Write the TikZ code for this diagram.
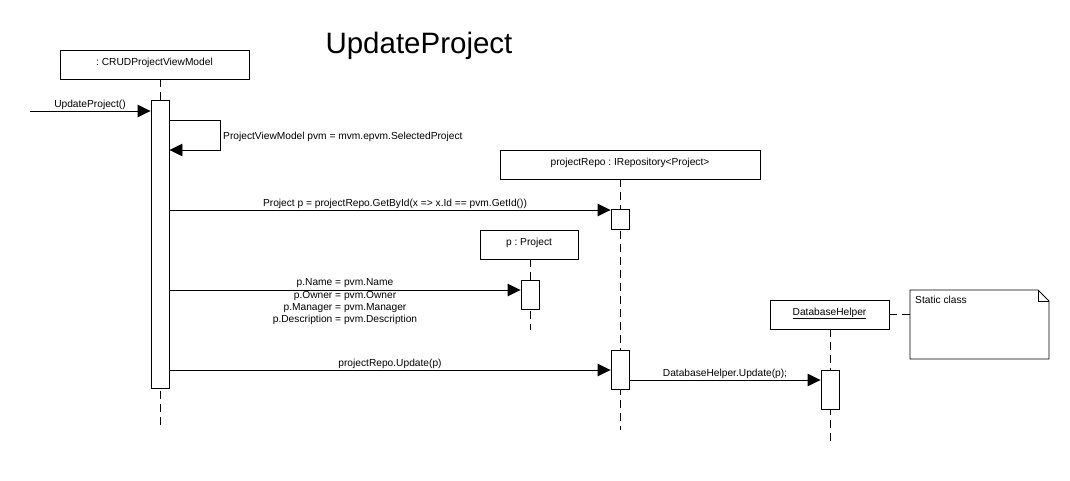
\documentclass[tikz,border=0pt]{standalone}
\usepackage{fontspec}
\setmainfont{Liberation Sans}
\usetikzlibrary{arrows.meta,calc}
\begin{document}
\frenchspacing
\begin{tikzpicture}[x=1pt,y=-1pt,
  every node/.style={font=\fontsize{10.2}{12}\selectfont},
  objbox/.style={draw,line width=0.9pt,inner sep=0pt,text height=7pt,text depth=6pt},
  actbar/.style={draw,fill=white,line width=0.9pt,inner sep=0pt,minimum width=18pt},
  lifeline/.style={line width=0.9pt,dash pattern=on 8pt off 5pt},
  msg/.style={line width=0.9pt,-{Triangle[length=13pt,width=12.5pt]}},
  msglabel/.style={inner sep=0pt,anchor=base},
  notelink/.style={line width=0.9pt,dash pattern=on 8pt off 5pt}]
\useasboundingbox (0,0) rectangle (1070,480);

% title
\node[font=\fontsize{29.5}{32}\selectfont,anchor=base] (title) at (419,53) {UpdateProject};

% object boxes
\node[objbox,minimum width=189pt,minimum height=29pt] (crud) at (154.5,64.5) {: CRUDProjectViewModel};
\node[objbox,minimum width=260pt,minimum height=29pt] (repo) at (630,164.5) {projectRepo : IRepository<Project>};
\node[objbox,minimum width=98pt,minimum height=29pt] (proj) at (529,244.5) {p : Project};
\node[objbox,minimum width=119pt,minimum height=29pt] (dbh) at (829.5,314.5) {\underline{DatabaseHelper}};

% lifeline end points
\coordinate (crudEnd) at (160,430);
\coordinate (repoEnd) at (620,430);
\coordinate (projEnd) at (530,330);
\coordinate (dbhEnd) at (830,441);

\draw[lifeline] (crud.south -| crudEnd) -- (crudEnd);
\draw[lifeline] (repo.south -| repoEnd) -- (repoEnd);
\draw[lifeline] (proj.south -| projEnd) -- (projEnd);
\draw[lifeline] (dbh.south -| dbhEnd) -- (dbhEnd);

% activation bars
\node[actbar,minimum height=288pt] (actCrud) at (160,244) {};
\node[actbar,minimum height=20pt] (actRepo1) at (620,219) {};
\node[actbar,minimum height=29pt] (actProj) at (530,295) {};
\node[actbar,minimum height=39pt] (actRepo2) at (620,369.5) {};
\node[actbar,minimum height=39pt] (actDbh) at (830,389.5) {};

% note
\coordinate (noteNW) at (910,290);
\coordinate (noteSE) at (1049,359);
\draw[line width=0.9pt,fill=white] (noteNW) -- (1038,290) -- (1049,301) -- (noteSE) -- (910,359) -- cycle;
\draw[line width=0.9pt] (1038,290) -- (1038,301) -- (1049,301);
\node[anchor=north west,inner sep=0pt] (note) at (915,295.5) {Static class};
\draw[notelink] (dbh.east) -- (noteNW |- dbh.east);

% message y levels
\coordinate (y0) at (0,111);
\coordinate (y1) at (0,210);
\coordinate (y2) at (0,290);
\coordinate (y3) at (0,370);
\coordinate (y4) at (0,380);
\coordinate (start) at (30,111);

% incoming call
\draw[msg] (start) -- (actCrud.west |- y0);
\node[msglabel] (l0) at (90,107) {UpdateProject()};

% self call
\coordinate (selfA) at (220,120);
\coordinate (selfB) at (220,150);
\draw[msg] (actCrud.east |- selfA) -- (selfA) -- (selfB) -- (actCrud.east |- selfB);
\node[anchor=west,inner sep=0pt] (l1) at (223,137) {ProjectViewModel pvm = mvm.epvm.SelectedProject};

% GetById
\draw[msg] (actCrud.east |- y1) -- (actRepo1.west |- y1);
\node[msglabel] (l2) at (395,206.5) {Project p = projectRepo.GetById(x => x.Id == pvm.GetId())};

% assignments
\draw[msg] (actCrud.east |- y2) -- (actProj.west |- y2);
\node[anchor=north,inner sep=0pt,align=center,font=\fontsize{10.2}{12.3}\selectfont] (l3) at (345,278.5)
  {p.Name = pvm.Name\\p.Owner = pvm.Owner\\p.Manager = pvm.Manager\\p.Description = pvm.Description};

% Update
\draw[msg] (actCrud.east |- y3) -- (actRepo2.west |- y3);
\node[msglabel] (l4) at (390,366) {projectRepo.Update(p)};

% DatabaseHelper.Update
\draw[msg] (actRepo2.east |- y4) -- (actDbh.west |- y4);
\node[msglabel] (l5) at (725,376) {DatabaseHelper.Update(p);};
\end{tikzpicture}
\end{document}
